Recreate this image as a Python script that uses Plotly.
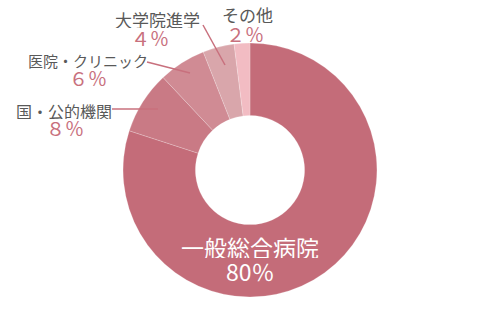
import plotly.graph_objects as go

labels = ["一般総合病院", "国・公的機関", "医院・クリニック", "大学院進学", "その他"]
values = [80, 8, 6, 4, 2]
pct_labels = ["80％", "８％", "６％", "４％", "２％"]
colors = ["#c46c79", "#c97a85", "#d08b94", "#d9a6ab", "#f2bcc3"]

FONT = "Noto Sans CJK JP"
GRAY = "#595959"
PINK = "#c8707d"

fig = go.Figure(go.Pie(
    labels=labels, values=values, hole=0.43, sort=False, direction="clockwise",
    rotation=0, textinfo="none", hoverinfo="label+percent",
    marker=dict(colors=colors, line=dict(color="rgba(255,255,255,0.4)", width=0.5)),
    domain=dict(x=[0.246, 0.754], y=[0.042, 0.861]), showlegend=False,
))

def px(x, y):
    return x / 500, 1 - y / 310

# (label x, label y, pct x, pct y, label font size) in pixel coords
label_pos = {1: (64, 110, 65, 128, 16), 2: (88, 60, 88, 78, 15),
             3: (157, 20, 150, 38, 17), 4: (247, 15, 245, 33, 17)}
ann = []
for i, (lx, ly, vx, vy, fs) in label_pos.items():
    x, y = px(lx, ly)
    ann.append(dict(x=x, y=y, xref="paper", yref="paper", text=labels[i], showarrow=False,
                    xanchor="center", yanchor="middle", height=17,
                    font=dict(family=FONT, size=fs, color=GRAY)))
    x, y = px(vx, vy)
    ann.append(dict(x=x, y=y, xref="paper", yref="paper", text=pct_labels[i], showarrow=False,
                    xanchor="center", yanchor="middle", height=17,
                    font=dict(family=FONT, size=19, color=PINK)))
x, y = px(250, 247)
ann.append(dict(x=x, y=y, xref="paper", yref="paper", text=labels[0], showarrow=False,
                xanchor="center", yanchor="middle", height=22,
                font=dict(family=FONT, size=23, color="white")))
x, y = px(250, 271)
ann.append(dict(x=x, y=y, xref="paper", yref="paper", text=pct_labels[0], showarrow=False,
                xanchor="center", yanchor="middle", height=22,
                font=dict(family=FONT, size=23, color="white")))

lines = [((112, 109), (158, 109)), ((147, 62), (190, 73)), ((203, 25), (225, 65))]
shapes = []
for (x0, y0), (x1, y1) in lines:
    a, b = px(x0, y0)
    c, d = px(x1, y1)
    shapes.append(dict(type="line", xref="paper", yref="paper", x0=a, y0=b, x1=c, y1=d,
                       line=dict(color=PINK, width=1.5)))

fig.update_layout(width=500, height=310, margin=dict(l=0, r=0, t=0, b=0),
                  paper_bgcolor="white", plot_bgcolor="white",
                  annotations=ann, shapes=shapes)
fig.write_html("out.html")
